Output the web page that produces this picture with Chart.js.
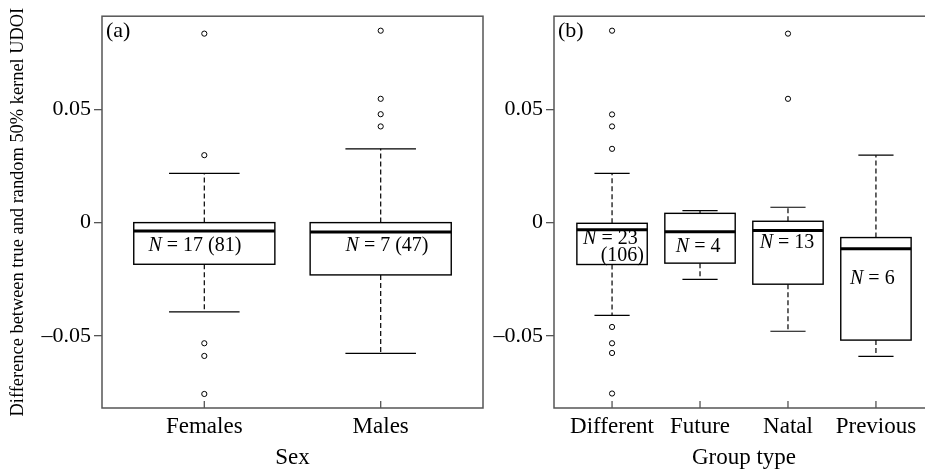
<!DOCTYPE html>
<html>
<head>
<meta charset="utf-8">
<script src="https://cdn.jsdelivr.net/npm/chart.js@4.4.1/dist/chart.umd.min.js"></script>
<style>
  html, body { margin: 0; padding: 0; background: #fff; }
  body { width: 925px; height: 472px; overflow: hidden; position: relative; }
  #wrapA { position: absolute; left: 0; top: 0; width: 490px; height: 472px; }
  #wrapB { position: absolute; left: 490px; top: 0; width: 450px; height: 472px; }
</style>
</head>
<body>
<div id="wrapA"><canvas id="sexChart" width="490" height="472"></canvas></div>
<div id="wrapB"><canvas id="groupChart" width="450" height="472"></canvas></div>
<script>
// --- Dados ---
const yTicks = [-0.05, 0, 0.05];

// Painel (a): Sexo
const sexCats = ["Females", "Males"];
const sexLo = [-0.0394, -0.0578];
const sexQ1 = [-0.0184, -0.0231];
const sexMed = [-0.0037, -0.0041];
const sexQ3 = [0.0, 0.0];
const sexHi = [0.0218, 0.0326];
const sexOut = [
  [0.0835, 0.0298, -0.0533, -0.0589, -0.0757],
  [0.0848, 0.0547, 0.0479, 0.0425],
];
const sexLabels = [["N = 17 (81)"], ["N = 7 (47)"]];

// Painel (b): Tipo de grupo
const groupCats = ["Different", "Future", "Natal", "Previous"];
const groupLo = [-0.041, -0.0251, -0.048, -0.0591];
const groupQ1 = [-0.0185, -0.0179, -0.0272, -0.0519];
const groupMed = [-0.0031, -0.004, -0.0035, -0.0115];
const groupQ3 = [-0.0003, 0.0041, 0.0006, -0.0066];
const groupHi = [0.0218, 0.0053, 0.0068, 0.0298];
const groupOut = [
  [0.0848, 0.0478, 0.0425, 0.0326, -0.0461, -0.0533, -0.0576, -0.0755],
  [],
  [0.0835, 0.0547],
  [],
];
const groupLabels = [["N = 23", "(106)"], ["N = 4"], ["N = 13"], ["N = 6"]];

// Posição dos textos N (unidades do eixo)
const sexLabelPos = [[[0.947, -0.0103]], [[2.036, -0.0103]]];
const groupLabelPos = [
  [[0.981, -0.0072], [1.117, -0.0147]],
  [[1.979, -0.0107]],
  [[2.989, -0.0088]],
  [[3.959, -0.0248]],
];

const FONT = "'Liberation Serif', 'DejaVu Serif', serif";
const FRAME = "#555";

// --- Plugin: caixas, bigodes, moldura ---
const boxPlugin = {
  id: "boxplot",
  beforeDatasetsDraw(chart, args, o) {
    const ctx = chart.ctx;
    const xs = chart.scales.x, ys = chart.scales.y;
    ctx.save();
    ctx.strokeStyle = "#000";
    for (let i = 0; i < o.q1.length; i++) {
      const c = i + 1;
      const xl = xs.getPixelForValue(c - 0.4), xr = xs.getPixelForValue(c + 0.4);
      const cl = xs.getPixelForValue(c - 0.2), cr = xs.getPixelForValue(c + 0.2);
      const xc = xs.getPixelForValue(c);
      const yq1 = ys.getPixelForValue(o.q1[i]), yq3 = ys.getPixelForValue(o.q3[i]);
      const ylo = ys.getPixelForValue(o.lo[i]), yhi = ys.getPixelForValue(o.hi[i]);
      const ym = ys.getPixelForValue(o.med[i]);

      // bigodes tracejados
      ctx.lineWidth = 1.2;
      ctx.setLineDash([5, 3]);
      ctx.beginPath();
      ctx.moveTo(xc, yq3); ctx.lineTo(xc, yhi);
      ctx.moveTo(xc, yq1); ctx.lineTo(xc, ylo);
      ctx.stroke();
      ctx.setLineDash([]);
      // extremidades
      ctx.beginPath();
      ctx.moveTo(cl, yhi); ctx.lineTo(cr, yhi);
      ctx.moveTo(cl, ylo); ctx.lineTo(cr, ylo);
      ctx.stroke();
      // caixa
      ctx.lineWidth = 1.4;
      ctx.fillStyle = "#fff";
      ctx.fillRect(xl, yq3, xr - xl, yq1 - yq3);
      ctx.strokeRect(xl, yq3, xr - xl, yq1 - yq3);
      // mediana
      ctx.lineWidth = 3;
      ctx.beginPath();
      ctx.moveTo(xl, ym); ctx.lineTo(xr, ym);
      ctx.stroke();
    }

    // textos N
    ctx.fillStyle = "#000";
    ctx.textBaseline = "middle";
    ctx.textAlign = "left";
    o.labels.forEach((lines, i) => {
      lines.forEach((txt, j) => {
        const p = o.labelPos[i][j];
        const px = xs.getPixelForValue(p[0]), py = ys.getPixelForValue(p[1]);
        let head = "", rest = txt;
        if (txt.startsWith("N")) { head = "N"; rest = txt.slice(1); }
        ctx.font = "italic 20px " + FONT;
        const wh = ctx.measureText(head).width;
        ctx.font = "20px " + FONT;
        const wr = ctx.measureText(rest).width;
        let x0 = px - (wh + wr) / 2;
        ctx.font = "italic 20px " + FONT;
        ctx.fillText(head, x0, py);
        ctx.font = "20px " + FONT;
        ctx.fillText(rest, x0 + wh, py);
      });
    });
    ctx.restore();
  },
  afterDraw(chart, args, o) {
    const ctx = chart.ctx;
    const a = chart.chartArea;
    const xs = chart.scales.x;
    ctx.save();
    ctx.strokeStyle = FRAME;
    ctx.lineWidth = 1.5;
    ctx.strokeRect(a.left, a.top, a.right - a.left, a.bottom - a.top);
    // marcas do eixo x para dentro
    ctx.lineWidth = 1.3;
    ctx.beginPath();
    for (let i = 0; i < o.q1.length; i++) {
      const x = xs.getPixelForValue(i + 1);
      ctx.moveTo(x, a.bottom); ctx.lineTo(x, a.bottom - 7);
    }
    ctx.stroke();
    // rótulo do painel
    ctx.fillStyle = "#000";
    ctx.font = "22px " + FONT;
    ctx.textBaseline = "middle";
    ctx.fillText(o.panel, a.left + 4, a.top + 15);
    ctx.restore();
  },
};

function outlierPoints(out) {
  const pts = [];
  out.forEach((vals, i) => vals.forEach((v) => pts.push({ x: i + 1, y: v })));
  return pts;
}

function makeChart(id, cfg) {
  const ctx = document.getElementById(id).getContext("2d");
  return new Chart(ctx, {
    type: "scatter",
    data: {
      datasets: [
        {
          data: outlierPoints(cfg.out),
          pointRadius: 2.6,
          pointBorderWidth: 1,
          pointBackgroundColor: "#fff",
          pointBorderColor: "#000",
          showLine: false,
        },
      ],
    },
    options: {
      responsive: false,
      animation: false,
      devicePixelRatio: 1,
      layout: { padding: { top: 14, right: cfg.padRight, left: 0, bottom: 0 } },
      plugins: {
        legend: { display: false },
        tooltip: { enabled: false },
        boxplot: {
          lo: cfg.lo, q1: cfg.q1, med: cfg.med, q3: cfg.q3, hi: cfg.hi,
          labels: cfg.labels, labelPos: cfg.labelPos, panel: cfg.panel,
        },
      },
      scales: {
        x: {
          type: "linear",
          min: cfg.xMin,
          max: cfg.xMax,
          afterBuildTicks: (s) => { s.ticks = cfg.cats.map((c, i) => ({ value: i + 1 })); },
          afterFit: (s) => { s.height = 64; },
          grid: { display: false },
          border: { display: false },
          ticks: {
            autoSkip: false,
            maxRotation: 0,
            padding: -3,
            color: "#000",
            font: { family: FONT, size: 23 },
            callback: (v) => cfg.cats[Math.round(v) - 1],
          },
          title: {
            display: true,
            text: cfg.xTitle,
            color: "#000",
            font: { family: FONT, size: 23 },
            padding: { top: 0, bottom: 0 },
          },
        },
        y: {
          min: -0.0819,
          max: 0.0912,
          afterBuildTicks: (s) => { s.ticks = yTicks.map((v) => ({ value: v })); },
          afterFit: (s) => { s.width = cfg.yWidth; },
          grid: {
            drawOnChartArea: false,
            drawTicks: true,
            tickLength: 8,
            color: FRAME,
            lineWidth: 1.3,
          },
          border: { display: false },
          ticks: {
            padding: 3,
            color: "#000",
            font: { family: FONT, size: 22 },
            callback: (v) => (v === 0 ? "0" : (v < 0 ? "\u2013" : "") + Math.abs(v).toFixed(2)),
          },
          title: {
            display: cfg.yTitle !== "",
            text: cfg.yTitle,
            color: "#000",
            font: { family: FONT, size: 18.4 },
            padding: { top: 7, bottom: 0 },
          },
        },
      },
    },
    plugins: [boxPlugin],
  });
}

document.addEventListener("DOMContentLoaded", function () {
  makeChart("sexChart", {
    cats: sexCats, lo: sexLo, q1: sexQ1, med: sexMed, q3: sexQ3, hi: sexHi,
    out: sexOut, labels: sexLabels, labelPos: sexLabelPos, panel: "(a)",
    xMin: 0.42, xMax: 2.58, yWidth: 102, padRight: 7,
    xTitle: "Sex",
    yTitle: "Difference between true and random 50% kernel UDOI",
  });
  makeChart("groupChart", {
    cats: groupCats, lo: groupLo, q1: groupQ1, med: groupMed, q3: groupQ3, hi: groupHi,
    out: groupOut, labels: groupLabels, labelPos: groupLabelPos, panel: "(b)",
    xMin: 0.34, xMax: 4.66, yWidth: 64, padRight: 6,
    xTitle: "Group type",
    yTitle: "",
  });
});
</script>
</body>
</html>
